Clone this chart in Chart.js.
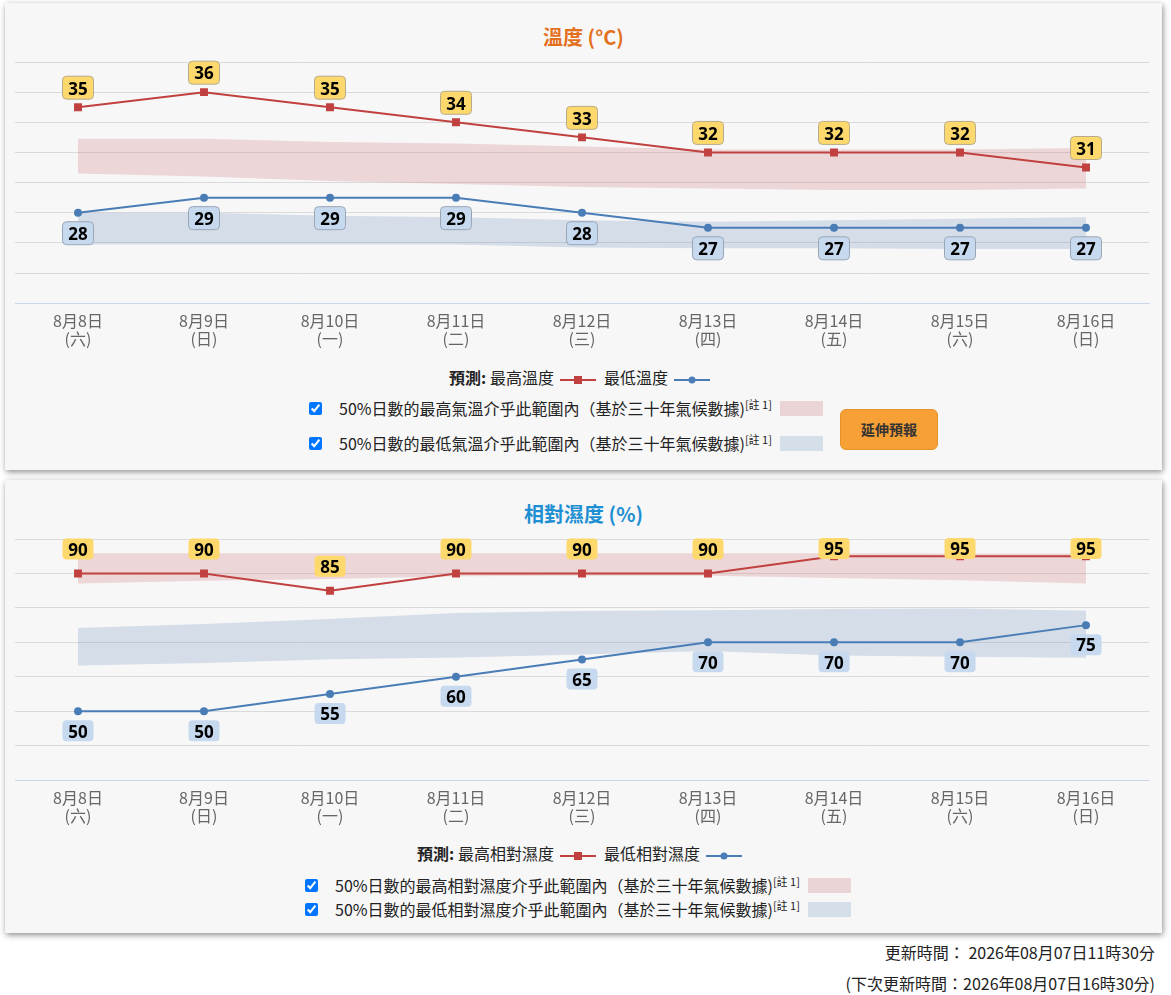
<!DOCTYPE html>
<html lang="zh-Hant">
<head>
<meta charset="utf-8">
<title>溫度及相對濕度預測</title>
<script src="https://cdn.jsdelivr.net/npm/chart.js@4.4.1/dist/chart.umd.min.js"></script>
<style>
  html, body { margin: 0; padding: 0; background: #fff; }
  body { width: 1171px; height: 995px; position: relative; overflow: hidden;
         font-family: "Noto Sans CJK TC", "Noto Sans", sans-serif; color: #222; }
  .panel { position: absolute; left: 5px; width: 1157px; background: #f7f7f7;
           box-shadow: 1px 2px 6px rgba(0,0,0,0.45); }
  #tempPanel { top: 3px; height: 467px; }
  #rhPanel { top: 480px; height: 453px; }
  .title { position: absolute; left: 0; right: 0; top: 20px; text-align: center;
           font-weight: bold; font-size: 20px; line-height: 28px; }
  .plot { position: absolute; left: 0; top: 47px; width: 1157px; height: 311px; }
  .series { position: absolute; left: 0; right: 0; text-align: center; font-size: 16px; line-height: 20px; }
  .series b { margin-right: 4px; }
  .series svg { vertical-align: middle; margin: 0 8px 0 6px; }
  .band { position: absolute; display: flex; align-items: center; font-size: 16px; line-height: 20px; }
  .band input { margin: 0 17px 0 0; width: 13px; height: 13px; }
  .band sup { font-size: 11px; line-height: 0; }
  .swatch { display: inline-block; width: 43px; height: 15px; margin-left: 8px; }
  .btn { position: absolute; left: 835px; top: 406px; width: 96px; height: 39px;
         background: #f7a035; border: 1px solid #e8932a; border-radius: 6px;
         font-size: 14px; font-weight: bold; color: #333; text-align: center; line-height: 39px; }
  .foot { position: absolute; right: 16px; font-size: 16px; color: #222; }
</style>
</head>
<body>

<div class="panel" id="tempPanel">
  <div class="title" style="color:#e4701e">溫度 (°C)</div>
  <div class="plot"><canvas id="tempChart"></canvas></div>
  <div class="series" style="top:364px">
    <b>預測:</b>最高溫度<svg width="36" height="10"><line x1="0" y1="5" x2="36" y2="5" stroke="#c0413f" stroke-width="2"/><rect x="14" y="1" width="8" height="8" fill="#c0413f"/></svg>最低溫度<svg width="36" height="10"><line x1="0" y1="5" x2="36" y2="5" stroke="#4a7db6" stroke-width="2"/><circle cx="18" cy="5" r="3.5" fill="#4a7db6"/></svg>
  </div>
  <div class="band" style="left:304px; top:395px">
    <input type="checkbox" checked><span>50%日數的最高氣溫介乎此範圍內（基於三十年氣候數據)<sup>[註 1]</sup></span><span class="swatch" style="background:#ebd4d6"></span>
  </div>
  <div class="band" style="left:304px; top:430px">
    <input type="checkbox" checked><span>50%日數的最低氣溫介乎此範圍內（基於三十年氣候數據)<sup>[註 1]</sup></span><span class="swatch" style="background:#d5dfea"></span>
  </div>
  <div class="btn">延伸預報</div>
</div>

<div class="panel" id="rhPanel">
  <div class="title" style="color:#1e8fd2">相對濕度 (%)</div>
  <div class="plot"><canvas id="rhChart"></canvas></div>
  <div class="series" style="top:363px">
    <b>預測:</b>最高相對濕度<svg width="36" height="10"><line x1="0" y1="5" x2="36" y2="5" stroke="#c0413f" stroke-width="2"/><rect x="14" y="1" width="8" height="8" fill="#c0413f"/></svg>最低相對濕度<svg width="36" height="10"><line x1="0" y1="5" x2="36" y2="5" stroke="#4a7db6" stroke-width="2"/><circle cx="18" cy="5" r="3.5" fill="#4a7db6"/></svg>
  </div>
  <div class="band" style="left:300px; top:395px">
    <input type="checkbox" checked><span>50%日數的最高相對濕度介乎此範圍內（基於三十年氣候數據)<sup>[註 1]</sup></span><span class="swatch" style="background:#ebd4d6"></span>
  </div>
  <div class="band" style="left:300px; top:419px">
    <input type="checkbox" checked><span>50%日數的最低相對濕度介乎此範圍內（基於三十年氣候數據)<sup>[註 1]</sup></span><span class="swatch" style="background:#d5dfea"></span>
  </div>
</div>

<div class="foot" style="top:940px">更新時間： 2026年08月07日11時30分</div>
<div class="foot" style="top:971px">(下次更新時間：2026年08月07日16時30分)</div>

<script>
(function () {
  'use strict';

  // ---------- 資料 ----------
  var dates = ['8月8日', '8月9日', '8月10日', '8月11日', '8月12日', '8月13日', '8月14日', '8月15日', '8月16日'];
  var weekdays = ['(六)', '(日)', '(一)', '(二)', '(三)', '(四)', '(五)', '(六)', '(日)'];

  var maxTemp = [35, 36, 35, 34, 33, 32, 32, 32, 31];
  var minTemp = [28, 29, 29, 29, 28, 27, 27, 27, 27];
  // 50% 日數範圍（三十年氣候數據）
  var maxTempBandHigh = [32.9, 32.9, 32.7, 32.6, 32.4, 32.2, 32.2, 32.2, 32.3];
  var maxTempBandLow = [30.6, 30.4, 30.1, 29.9, 29.7, 29.6, 29.5, 29.5, 29.6];
  var minTempBandHigh = [28.0, 28.0, 27.8, 27.7, 27.5, 27.4, 27.5, 27.6, 27.7];
  var minTempBandLow = [25.9, 25.9, 25.9, 25.9, 25.7, 25.65, 25.65, 25.6, 25.6];

  var maxRh = [90, 90, 85, 90, 90, 90, 95, 95, 95];
  var minRh = [50, 50, 55, 60, 65, 70, 70, 70, 75];
  var maxRhBandHigh = [95.9, 95.9, 95.9, 95.9, 95.9, 95.9, 95.9, 95.8, 95.8];
  var maxRhBandLow = [87.1, 87.9, 88.4, 89.2, 89.3, 89.3, 88.7, 88.0, 87.1];
  var minRhBandHigh = [74.2, 75.3, 76.8, 78.5, 79.1, 79.3, 79.7, 79.8, 79.2];
  var minRhBandLow = [63.3, 64.0, 65.1, 65.6, 66.5, 67.5, 66.2, 65.8, 65.5];

  var tempTicks = { min: 22, max: 38, step: 2 };
  var rhTicks = { min: 30, max: 100, step: 10 };

  var labels = dates.map(function (d, i) { return [d, weekdays[i]]; });

  var RED = '#c0413f';
  var BLUE = '#4a7db6';
  var PINK_BAND = 'rgba(205, 110, 118, 0.24)';
  var BLUE_BAND = 'rgba(100, 140, 185, 0.24)';

  Chart.defaults.font.family = '"Noto Sans CJK TC", "Noto Sans", sans-serif';
  Chart.defaults.animation = false;

  // ---------- 數值標籤（圓角方框）----------
  var valueLabels = {
    id: 'valueLabels',
    afterDatasetsDraw: function (chart) {
      var ctx = chart.ctx;
      var area = chart.chartArea;
      chart.data.datasets.forEach(function (ds, i) {
        var st = ds.boxStyle;
        if (!st) return;
        var meta = chart.getDatasetMeta(i);
        ctx.save();
        ctx.font = 'bold 17px "Noto Sans", "DejaVu Sans", sans-serif';
        meta.data.forEach(function (pt, j) {
          var text = String(ds.data[j]);
          var w = Math.max(ctx.measureText(text).width + 10, 31);
          var h = st.h;
          var top = st.pos === 'above' ? pt.y - st.gap - h : pt.y + st.gap;
          if (top < area.top - 1) top = area.top - 1;
          var left = pt.x - w / 2;
          ctx.beginPath();
          ctx.roundRect(left, top, w, h, 4);
          ctx.fillStyle = st.bg;
          ctx.fill();
          if (st.border) {
            ctx.lineWidth = 1;
            ctx.strokeStyle = st.border;
            ctx.stroke();
          }
          ctx.fillStyle = '#000';
          ctx.textAlign = 'center';
          ctx.textBaseline = 'middle';
          ctx.fillText(text, pt.x, top + h / 2 + 2);
        });
        ctx.restore();
      });
    }
  };

  function buildChart(el, series, ticks, bordered) {
    var upperBox = { pos: 'above', gap: bordered ? 8 : 14, h: bordered ? 23 : 21, bg: '#fdd86c', border: bordered ? '#b8ab8c' : null };
    var lowerBox = { pos: 'below', gap: 9, h: bordered ? 23 : 21, bg: '#c6d9ef', border: bordered ? '#9aa6b4' : null };
    return new Chart(el, {
      type: 'line',
      data: {
        labels: labels,
        datasets: [
          { data: series.hiBandLow, borderWidth: 0, pointRadius: 0, fill: false, order: 3 },
          { data: series.hiBandHigh, borderWidth: 0, pointRadius: 0, fill: '-1', backgroundColor: PINK_BAND, order: 3 },
          { data: series.loBandLow, borderWidth: 0, pointRadius: 0, fill: false, order: 3 },
          { data: series.loBandHigh, borderWidth: 0, pointRadius: 0, fill: '-1', backgroundColor: BLUE_BAND, order: 3 },
          {
            data: series.hi, borderColor: RED, backgroundColor: RED, borderWidth: 2,
            pointStyle: 'rect', pointRadius: 5.6, pointBorderWidth: 0, fill: false, order: 1,
            boxStyle: upperBox
          },
          {
            data: series.lo, borderColor: BLUE, backgroundColor: BLUE, borderWidth: 2,
            pointStyle: 'circle', pointRadius: 4, pointBorderWidth: 0, fill: false, order: 1,
            boxStyle: lowerBox
          }
        ]
      },
      options: {
        responsive: true,
        maintainAspectRatio: false,
        layout: { padding: { left: 10, right: 13, top: 12, bottom: 4 } },
        plugins: { legend: { display: false }, tooltip: { enabled: false } },
        scales: {
          x: {
            offset: true,
            grid: { display: false, drawTicks: false },
            border: { color: '#ccd6eb' },
            ticks: { color: '#666', font: { size: 16, lineHeight: 1.12 }, padding: 9, maxRotation: 0, autoSkip: false }
          },
          y: {
            min: ticks.min,
            max: ticks.max,
            grid: { color: '#dadada', drawTicks: false },
            border: { display: false },
            ticks: { display: false, stepSize: ticks.step }
          }
        }
      },
      plugins: [valueLabels]
    });
  }

  buildChart(document.getElementById('tempChart'), {
    hi: maxTemp, lo: minTemp,
    hiBandHigh: maxTempBandHigh, hiBandLow: maxTempBandLow,
    loBandHigh: minTempBandHigh, loBandLow: minTempBandLow
  }, tempTicks, true);

  buildChart(document.getElementById('rhChart'), {
    hi: maxRh, lo: minRh,
    hiBandHigh: maxRhBandHigh, hiBandLow: maxRhBandLow,
    loBandHigh: minRhBandHigh, loBandLow: minRhBandLow
  }, rhTicks, false);
})();
</script>
</body>
</html>
